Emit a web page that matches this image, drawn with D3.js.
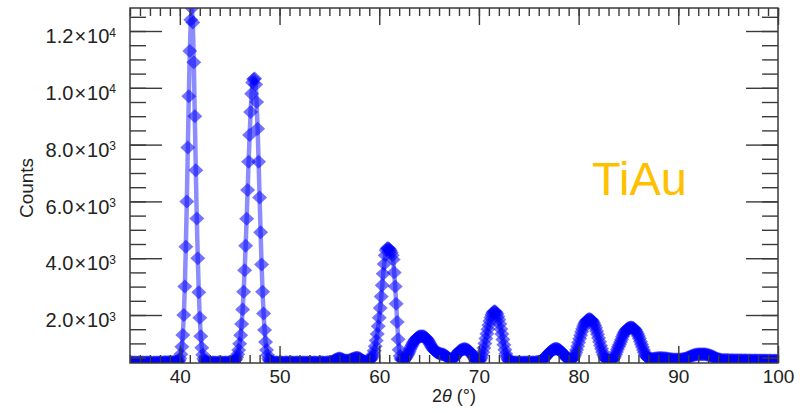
<!DOCTYPE html>
<html>
<head>
<meta charset="utf-8">
<script src="https://cdn.jsdelivr.net/npm/d3@7"></script>
<style>
  body { margin: 0; background: #fff; }
  text { font-family: "Liberation Sans", Arial, sans-serif; fill: #222; }
</style>
</head>
<body>
<div id="root"></div>
<script>
// XRD scan of TiAu, one reading every 0.1 deg of 2theta, starting at 35.0
var angleStart = 35, angleStep = 0.1;

var counts35 = [
  330, 320, 335, 325, 330, 340, 320, 330, 325, 335,
  330, 325, 320, 335, 330, 320, 340, 330, 325, 330,
  335, 320, 330, 310, 340, 330, 320, 335, 330, 325,
  330, 335, 325, 340, 330, 345, 335, 340, 335, 345,
  340, 335, 345, 340, 350, 345, 355, 350, 360, 390,
  470, 620, 880, 1300, 2000, 3000, 4400, 6000, 7900, 9700,
  11300, 12400, 12810, 12300, 10900, 9000, 7100, 5400, 4000, 2800,
  1900, 1250, 850, 600, 460, 390, 360, 345, 335, 330,
  325, 330, 320, 335, 330, 325, 330, 320, 330, 335,
  330, 325, 335, 330, 320, 330, 335, 325, 330, 340
];
var counts45 = [
  335, 330, 340, 335, 370, 400, 440, 510, 620, 770,
  990, 1290, 1680, 2190, 2820, 3580, 4440, 5390, 6400, 7400,
  8340, 9150, 9790, 10190, 10300, 10330, 10120, 9500, 8560, 7400,
  6140, 4910, 3780, 2820, 2050, 1470, 1050, 770, 590, 470,
  405, 370, 350, 340, 335, 330, 325, 335, 330, 320,
  330, 325, 335, 330, 320, 330, 325, 335, 330, 325,
  320, 330, 335, 325, 330, 320, 330, 335, 325, 330,
  330, 325, 320, 335, 330, 325, 330, 320, 335, 330,
  325, 335, 330, 320, 330, 335, 325, 330, 320, 330,
  335, 325, 330, 335, 330, 320, 330, 325, 335, 340
];
var counts55 = [
  335, 340, 350, 365, 385, 405, 425, 440, 455, 465,
  470, 465, 455, 440, 425, 410, 400, 395, 395, 400,
  410, 425, 440, 455, 470, 480, 490, 495, 495, 490,
  480, 460, 435, 410, 390, 375, 365, 360, 365, 380,
  400, 430, 470, 530, 620, 740, 900, 1100, 1330, 1600,
  1900, 2250, 2650, 3050, 3450, 3800, 4100, 4280, 4350, 4350,
  4320, 4270, 4200, 4100, 3950, 3500, 3000, 2400, 1750, 1150,
  780, 560, 460, 420, 410, 430, 460, 510, 570, 640,
  710, 790, 870, 940, 1010, 1070, 1120, 1160, 1200, 1225,
  1240, 1250, 1255, 1255, 1250, 1240, 1220, 1190, 1150, 1100
];
var counts65 = [
  1040, 980, 920, 860, 810, 770, 730, 700, 680, 660,
  650, 640, 630, 620, 610, 600, 580, 560, 530, 500,
  470, 450, 440, 445, 460, 490, 530, 580, 630, 680,
  720, 750, 770, 785, 795, 800, 800, 795, 785, 770,
  745, 710, 670, 620, 560, 500, 450, 410, 380, 370,
  380, 420, 480, 570, 690, 840, 1000, 1170, 1340, 1500,
  1650, 1790, 1910, 2010, 2080, 2120, 2130, 2100, 2040, 1950,
  1830, 1680, 1510, 1330, 1140, 950, 780, 640, 530, 450,
  400, 370, 355, 345, 340, 335, 330, 335, 330, 325,
  330, 325, 335, 330, 320, 330, 335, 325, 330, 335
];
var counts75 = [
  330, 325, 335, 330, 340, 335, 330, 340, 345, 350,
  355, 365, 380, 400, 425, 455, 490, 530, 570, 610,
  650, 690, 720, 750, 775, 795, 805, 810, 810, 800,
  785, 765, 735, 700, 660, 615, 570, 525, 485, 455,
  435, 420, 420, 430, 460, 510, 580, 670, 780, 900,
  1030, 1160, 1290, 1410, 1520, 1610, 1690, 1750, 1800, 1830,
  1850, 1855, 1845, 1820, 1780, 1720, 1640, 1550, 1440, 1320,
  1190, 1060, 930, 810, 700, 600, 520, 460, 420, 400,
  390, 385, 390, 405, 430, 470, 530, 610, 700, 790,
  880, 960, 1050, 1140, 1230, 1310, 1380, 1440, 1490, 1520
];
var counts85 = [
  1540, 1555, 1560, 1560, 1555, 1540, 1510, 1470, 1410, 1340,
  1260, 1170, 1070, 970, 870, 770, 680, 600, 540, 500,
  470, 455, 450, 450, 455, 460, 465, 470, 475, 480,
  485, 490, 490, 490, 485, 480, 480, 475, 470, 465,
  460, 455, 450, 445, 440, 435, 430, 430, 430, 435,
  430, 430, 435, 440, 445, 450, 460, 470, 480, 495,
  510, 525, 540, 555, 568, 580, 590, 598, 605, 610,
  614, 617, 619, 620, 620, 619, 617, 614, 610, 604,
  596, 586, 574, 560, 545, 528, 510, 492, 475, 460,
  448, 438, 430, 424, 420, 418, 416, 415, 414, 413
];
var counts95 = [
  412, 410, 408, 410, 412, 408, 405, 408, 410, 406,
  404, 408, 410, 406, 404, 402, 406, 408, 404, 402,
  400, 404, 406, 402, 400, 398, 402, 404, 400, 398,
  396, 400, 402, 398, 396, 394, 398, 400, 396, 394,
  392, 396, 398, 394, 392, 390, 394, 396, 392, 390,
  390
];

var xTicks = [40, 50, 60, 70, 80, 90, 100];
var yTicks = [2000, 4000, 6000, 8000, 10000, 12000];
var xLabel = "2θ (°)";
var yLabel = "Counts";
var sampleName = "TiAu";

var counts = [].concat(counts35, counts45, counts55, counts65, counts75, counts85, counts95);
var data = counts.map(function(c, i) {
  return { angle: +(angleStart + i * angleStep).toFixed(1), count: c };
});

var w = 805, h = 413;
var plotL = 130, plotR = 778, plotT = 8, plotB = 363;
var axisColor = "#3a3a3a";

var x = d3.scaleLinear().domain([35, 100]).range([plotL, plotR]);
var y = d3.scaleLinear().domain(d3.extent(counts)).range([plotB, plotT]);

var svg = d3.select("#root").append("svg").attr("width", w).attr("height", h);

svg.append("defs").append("clipPath").attr("id", "plotclip")
  .append("rect").attr("x", plotL).attr("y", plotT)
  .attr("width", plotR - plotL).attr("height", plotB - plotT);

// data: line under the diamonds
var plot = svg.append("g").attr("clip-path", "url(#plotclip)");
var line = d3.line().x(function(d) { return x(d.angle); }).y(function(d) { return y(d.count); });
plot.append("path").datum(data).attr("d", line)
  .attr("fill", "none").attr("stroke", "#0000ff").attr("stroke-opacity", 0.45)
  .attr("stroke-width", 4.5).attr("stroke-linejoin", "round");

plot.selectAll("path.pt").data(data).enter().append("path")
  .attr("class", "pt")
  .attr("d", "M0,-7L7.5,0L0,7L-7.5,0Z")
  .attr("transform", function(d) { return "translate(" + x(d.angle) + "," + y(d.count) + ")"; })
  .attr("fill", "#0000ff").attr("fill-opacity", 0.55);

// axes: ticks point inwards on all four sides
function styleAxis(g) {
  g.select(".domain").remove();
  g.selectAll(".tick line").attr("stroke", axisColor).attr("stroke-width", 1.4);
}
var xMinor = d3.range(35, 100.5, 1);
var yMinor = d3.range(500, 12800, 500);

svg.append("g").attr("transform", "translate(0," + plotB + ")")
  .call(d3.axisBottom(x).tickValues(xMinor).tickSize(-8).tickFormat("")).call(styleAxis);
svg.append("g").attr("transform", "translate(0," + plotT + ")")
  .call(d3.axisTop(x).tickValues(xMinor).tickSize(-8).tickFormat("")).call(styleAxis);
svg.append("g").attr("transform", "translate(0," + plotT + ")")
  .call(d3.axisTop(x).tickValues(xTicks).tickSize(-17).tickFormat("")).call(styleAxis);

var xAxis = svg.append("g").attr("transform", "translate(0," + plotB + ")")
  .call(d3.axisBottom(x).tickValues(xTicks).tickSize(-17).tickPadding(7).tickFormat(d3.format("d")))
  .call(styleAxis);
xAxis.selectAll("text").attr("font-size", 19).attr("fill", "#222")
  .style("font-family", "'Liberation Sans', Arial, sans-serif");

svg.append("g").attr("transform", "translate(" + plotL + ",0)")
  .call(d3.axisLeft(y).tickValues(yMinor).tickSize(-16).tickFormat("")).call(styleAxis);
svg.append("g").attr("transform", "translate(" + plotR + ",0)")
  .call(d3.axisRight(y).tickValues(yMinor).tickSize(-16).tickFormat("")).call(styleAxis);
svg.append("g").attr("transform", "translate(" + plotR + ",0)")
  .call(d3.axisRight(y).tickValues(yTicks).tickSize(-32).tickFormat("")).call(styleAxis);

var yAxis = svg.append("g").attr("transform", "translate(" + plotL + ",0)")
  .call(d3.axisLeft(y).tickValues(yTicks).tickSize(-32).tickPadding(14))
  .call(styleAxis);
yAxis.selectAll("text").each(function(v) {
  var e = Math.floor(Math.log10(v));
  var m = (v / Math.pow(10, e)).toFixed(1);
  var t = d3.select(this).text(null)
    .attr("font-size", 20).attr("fill", "#222").attr("dy", "0.58em")
    .style("font-family", "'Liberation Sans', Arial, sans-serif");
  t.append("tspan").text(m);
  t.append("tspan").attr("dx", 1).text("×");
  t.append("tspan").attr("dx", 1).text("10");
  t.append("tspan").attr("dy", "-0.55em").attr("font-size", 12).text(e);
});

svg.append("rect").attr("x", plotL).attr("y", plotT)
  .attr("width", plotR - plotL).attr("height", plotB - plotT)
  .attr("fill", "none").attr("stroke", axisColor).attr("stroke-width", 1.5);

// axis titles
var xt = svg.append("text").attr("x", (plotL + plotR) / 2).attr("y", 402)
  .attr("text-anchor", "middle").attr("font-size", 18);
xt.append("tspan").text("2");
xt.append("tspan").attr("font-style", "italic").text("θ");
xt.append("tspan").text(" (°)");

svg.append("text").attr("transform", "translate(33,188) rotate(-90)")
  .attr("text-anchor", "middle").attr("font-size", 19).text(yLabel);

svg.append("text").attr("x", 592).attr("y", 195)
  .attr("font-size", 47).style("fill", "#ffc000").text(sampleName);
</script>
</body>
</html>
